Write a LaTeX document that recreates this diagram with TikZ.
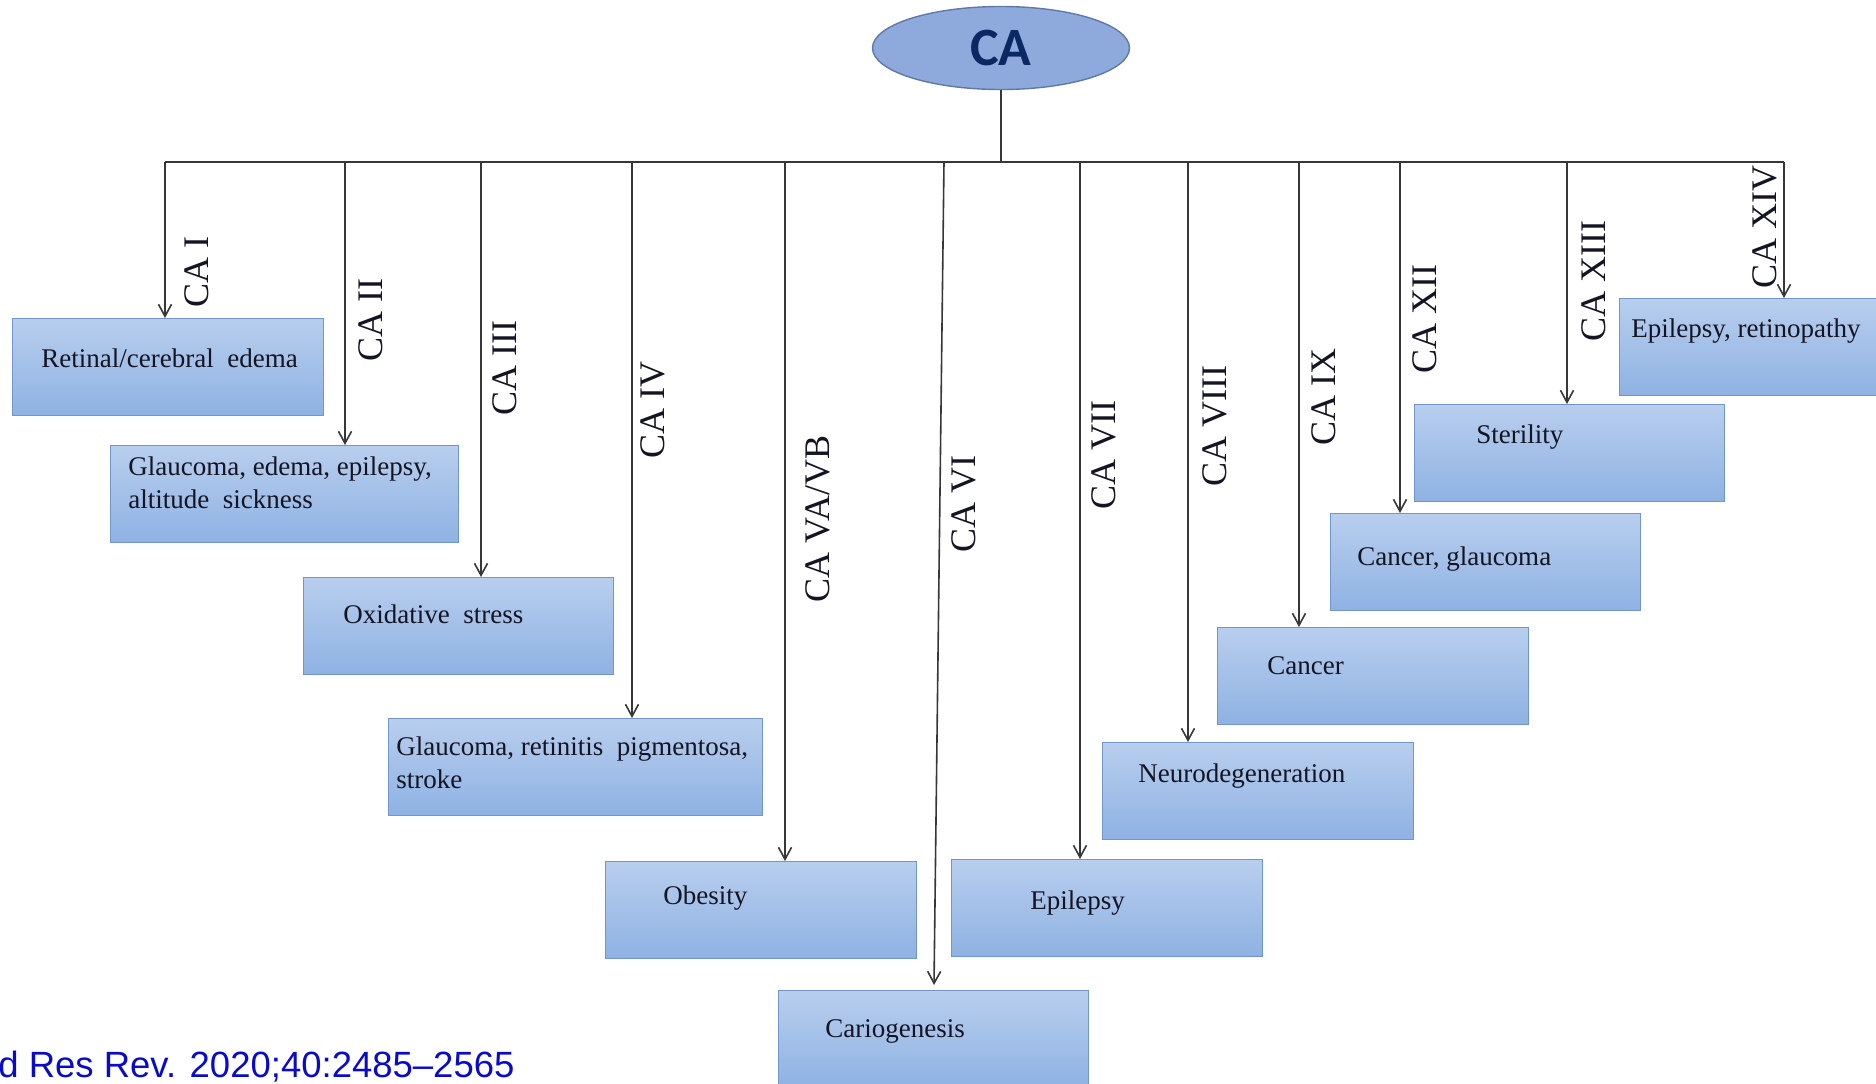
\documentclass[tikz,border=0pt]{standalone}
\usepackage{fontspec}
\setmainfont{Liberation Serif}
\newfontfamily\calibf{Carlito}
\newfontfamily\arialf{Liberation Sans}
\usetikzlibrary{arrows.meta,shapes.geometric}
\definecolor{boxtop}{RGB}{184,206,238}
\definecolor{boxbot}{RGB}{142,178,227}
\definecolor{boxedge}{RGB}{112,150,205}
\definecolor{ellfill}{RGB}{142,170,220}
\definecolor{elledge}{RGB}{96,120,166}
\definecolor{catext}{RGB}{12,40,98}
\definecolor{linecol}{RGB}{55,55,55}
\definecolor{txtcol}{RGB}{20,20,34}
\definecolor{citecol}{RGB}{10,10,205}
\tikzset{
  box/.style={draw=boxedge, line width=0.6pt, top color=boxtop, bottom color=boxbot,
    anchor=north west, inner sep=0pt, minimum height=48.5pt},
  btxt/.style={font=\fontsize{13.5}{16}\selectfont, text=txtcol, anchor=base west, inner sep=0pt},
  clbl/.style={font=\fontsize{18}{20}\selectfont, text=txtcol, rotate=90, inner sep=0pt},
  conn/.style={draw=linecol, line width=0.8pt},
  arr/.style={conn, -{Straight Barb[length=6pt,width=6.5pt,line width=0.8pt]}},
}
\begin{document}
\begin{tikzpicture}[x=0.5pt,y=-0.5pt]
\clip (0,0) rectangle (1876,1083);
\fill[white] (0,0) rectangle (1876,1083);

% root
\node[ellipse, draw=elledge, line width=0.7pt, fill=ellfill, minimum width=128.5pt, minimum height=41.5pt, inner sep=0pt,
  font=\calibf\bfseries\fontsize{27}{30}\selectfont, text=catext] (ca) at (1001,48) {CA};

% bus coordinates
\coordinate (hub) at (1001,162);
\coordinate (h1) at (165,162);
\coordinate (h2) at (345,162);
\coordinate (h3) at (481,162);
\coordinate (h4) at (632,162);
\coordinate (h5) at (785,162);
\coordinate (h6) at (944,162);
\coordinate (h7) at (1080,162);
\coordinate (h8) at (1188,162);
\coordinate (h9) at (1299,162);
\coordinate (h10) at (1400,162);
\coordinate (h11) at (1567,162);
\coordinate (h12) at (1784,162);
\coordinate (e6) at (934,985);

% boxes
\node[box, minimum width=155.5pt] (b1) at (12,318) {};
\node[box, minimum width=174pt] (b2) at (110,445) {};
\node[box, minimum width=155pt] (b3) at (303,577) {};
\node[box, minimum width=187pt] (b4) at (388,718) {};
\node[box, minimum width=155.5pt] (b5) at (605,861) {};
\node[box, minimum width=155pt] (b6) at (778,990) {};
\node[box, minimum width=155.5pt] (b7) at (951,859) {};
\node[box, minimum width=155.5pt] (b8) at (1102,742) {};
\node[box, minimum width=155.5pt] (b9) at (1217,627) {};
\node[box, minimum width=155pt] (b10) at (1330,513) {};
\node[box, minimum width=155pt] (b11) at (1414,404) {};
\node[box, minimum width=155pt] (b12) at (1619,298) {};

% box texts
\node[btxt] (t1) at (41,367) {Retinal/cerebral\ \ edema};
\node[btxt] (t2a) at (128,475) {Glaucoma, edema, epilepsy,};
\node[btxt] (t2b) at (128,508) {altitude\ \ sickness};
\node[btxt] (t3) at (343,623) {Oxidative\ \ stress};
\node[btxt] (t4a) at (396,755) {Glaucoma, retinitis\ \ pigmentosa,};
\node[btxt] (t4b) at (396,788) {stroke};
\node[btxt] (t5) at (663,904) {Obesity};
\node[btxt] (t6) at (825,1037) {Cariogenesis};
\node[btxt] (t7) at (1030,909) {Epilepsy};
\node[btxt] (t8) at (1138,782) {Neurodegeneration};
\node[btxt] (t9) at (1267,674) {Cancer};
\node[btxt] (t10) at (1357,565) {Cancer, glaucoma};
\node[btxt] (t11) at (1476,443) {Sterility};
\node[btxt] (t12) at (1631,337) {Epilepsy, retinopathy};

% connectors
\draw[conn] (ca.south) -- (hub);
\draw[conn] (h1) -- (h12);
\draw[arr] (h1) -- (h1 |- b1.north);
\draw[arr] (h2) -- (h2 |- b2.north);
\draw[arr] (h3) -- (h3 |- b3.north);
\draw[arr] (h4) -- (h4 |- b4.north);
\draw[arr] (h5) -- (h5 |- b5.north);
\draw[arr] (h6) -- (e6);
\draw[arr] (h7) -- (h7 |- b7.north);
\draw[arr] (h8) -- (h8 |- b8.north);
\draw[arr] (h9) -- (h9 |- b9.north);
\draw[arr] (h10) -- (h10 |- b10.north);
\draw[arr] (h11) -- (h11 |- b11.north);
\draw[arr] (h12) -- (h12 |- b12.north);

% labels
\node[clbl] (l1) at (197,272) {CA I};
\node[clbl] (l2) at (371,320) {CA II};
\node[clbl] (l3) at (505,368) {CA III};
\node[clbl] (l4) at (653,410) {CA IV};
\node[clbl] (l5) at (818,519) {CA VA/VB};
\node[clbl] (l6) at (964,504) {CA VI};
\node[clbl] (l7) at (1104,455) {CA VII};
\node[clbl] (l8) at (1215,426) {CA VIII};
\node[clbl] (l9) at (1324,397) {CA IX};
\node[clbl] (l10) at (1425,319) {CA XII};
\node[clbl] (l11) at (1594,281) {CA XIII};
\node[clbl] (l12) at (1765,227) {CA XIV};

% citation
\node[font=\arialf\fontsize{18.25}{20}\selectfont, text=citecol, anchor=base west, inner sep=0pt] (cite) at (-2,1077) {d Res Rev. 2020;40:2485–2565};
\end{tikzpicture}
\end{document}
